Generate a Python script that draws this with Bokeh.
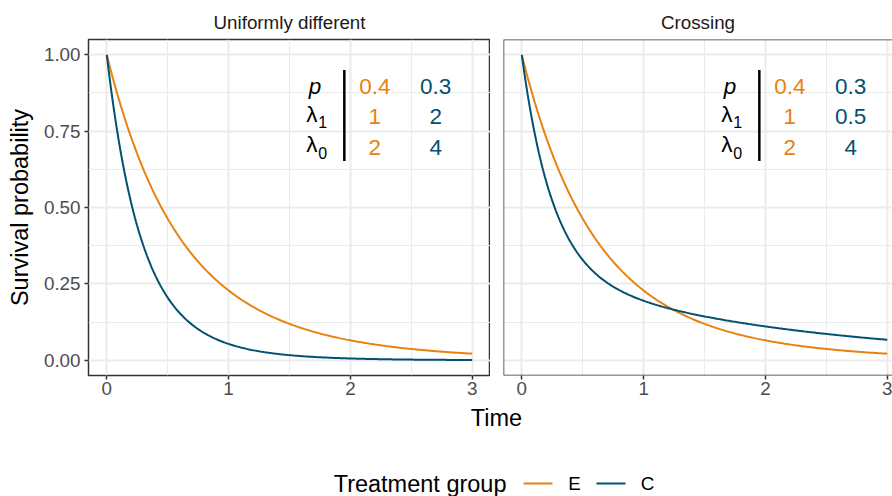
import numpy as np
from bokeh.plotting import figure
from bokeh.layouts import column, row
from bokeh.models import Range1d, FixedTicker, Span, PrintfTickFormatter
from bokeh.core.properties import value
from bokeh.embed import file_html
from bokeh.resources import INLINE

# Scenarios and treatment groups
panels = ["Uniformly different", "Crossing"]
groups = ["E", "C"]

# Mixture-exponential survival parameters per scenario:
# S(t) = p * exp(-lambda1 * t) + (1 - p) * exp(-lambda0 * t)
p_E = [0.4, 0.4]
lam1_E = [1, 1]
lam0_E = [2, 2]
p_C = [0.3, 0.3]
lam1_C = [2, 0.5]
lam0_C = [4, 4]

x_ticks = [0, 1, 2, 3]
x_minor = [0.5, 1.5, 2.5]
y_ticks = [0.0, 0.25, 0.5, 0.75, 1.0]
y_minor = [0.125, 0.375, 0.625, 0.875]

COL_E = "#E8820C"
COL_C = "#03506F"
FONT = "Liberation Sans"
GRID = "#EBEBEB"
DARK = "#333333"
SMALL = "18.8px"
LARGE = "23.5px"
TOP_H = 403

t = np.linspace(0, 3, 301)


def survival(p, l1, l0):
    return p * np.exp(-l1 * t) + (1 - p) * np.exp(-l0 * t)


def fmt(v):
    return f"{v:g}"


def make_panel(i, width, left, x_end, first):
    f = figure(width=width, height=TOP_H,
               x_range=Range1d(-0.15, x_end), y_range=Range1d(-0.05, 1.05),
               output_backend="svg", toolbar_location=None,
               min_border_left=left, min_border_right=0,
               min_border_top=39, min_border_bottom=TOP_H - 375,
               title=panels[i])
    f.title.align = "center"
    f.title.text_font = FONT
    f.title.text_font_size = SMALL
    f.title.text_font_style = "normal"
    f.title.text_color = "#1A1A1A"
    f.title.standoff = 13
    f.background_fill_color = "white"
    f.border_fill_color = "white"

    f.xaxis.ticker = FixedTicker(ticks=x_ticks, minor_ticks=x_minor)
    f.yaxis.ticker = FixedTicker(ticks=y_ticks, minor_ticks=y_minor)
    f.xgrid.ticker = FixedTicker(ticks=x_ticks, minor_ticks=x_minor)
    f.ygrid.ticker = FixedTicker(ticks=y_ticks, minor_ticks=y_minor)
    f.yaxis.formatter = PrintfTickFormatter(format="%.2f")
    for g in (f.xgrid, f.ygrid):
        g.grid_line_color = GRID
        g.grid_line_width = 2
        g.minor_grid_line_color = GRID
        g.minor_grid_line_width = 1
    for ax in (f.xaxis, f.yaxis):
        ax.axis_line_color = None
        ax.major_tick_line_color = DARK
        ax.major_tick_line_width = 1.5
        ax.major_tick_out = 4
        ax.major_tick_in = 0
        ax.minor_tick_line_color = None
        ax.major_label_text_font = FONT
        ax.major_label_text_font_size = SMALL
        ax.major_label_text_color = "#4D4D4D"
    f.xaxis.major_label_standoff = 2
    f.yaxis.major_label_standoff = 4
    if first:
        f.outline_line_color = DARK
        f.outline_line_width = 1.5
        f.yaxis.axis_label = "Survival probability"
        f.yaxis.axis_label_text_font = FONT
        f.yaxis.axis_label_text_font_size = LARGE
        f.yaxis.axis_label_text_font_style = "normal"
        f.yaxis.axis_label_text_color = "black"
        f.yaxis.axis_label_standoff = 8
    else:
        f.yaxis.visible = False
        f.outline_line_color = None
        for loc, dim in ((-0.15, "height"), (1.05, "width"), (-0.05, "width")):
            f.add_layout(Span(location=loc, dimension=dim,
                              line_color=DARK, line_width=1.5))

    # survival curves
    sE = survival(p_E[i], lam1_E[i], lam0_E[i])
    sC = survival(p_C[i], lam1_C[i], lam0_C[i])
    f.line(t, sE, line_color=COL_E, line_width=2)
    f.line(t, sC, line_color=COL_C, line_width=2)

    # parameter table
    xl, xbar, xe, xc = 1.71, 1.95, 2.20, 2.70
    rows = [0.897, 0.798, 0.697]
    f.text(x=[xl], y=[rows[0]], text=["p"], text_font=value(FONT),
           text_font_size="22.5px", text_font_style="italic",
           text_align="center", text_baseline="middle", text_color="black")
    f.text(x=[xl + 0.02, xl + 0.02], y=[rows[1] + 0.008, rows[2] + 0.008],
           text=["λ", "λ"], text_font=value(FONT), text_font_size="22.5px",
           text_align="right", text_baseline="middle", text_color="black")
    f.text(x=[xl + 0.025, xl + 0.025], y=[rows[1] - 0.018, rows[2] - 0.018],
           text=["1", "0"], text_font=value(FONT), text_font_size="16px",
           text_align="left", text_baseline="middle", text_color="black")
    f.segment(x0=[xbar], y0=[0.652], x1=[xbar], y1=[0.95],
              line_color="black", line_width=2.5)
    f.text(x=[xe] * 3, y=rows,
           text=[fmt(p_E[i]), fmt(lam1_E[i]), fmt(lam0_E[i])],
           text_font=value(FONT), text_font_size="22.5px",
           text_align="center", text_baseline="middle", text_color=COL_E)
    f.text(x=[xc] * 3, y=rows,
           text=[fmt(p_C[i]), fmt(lam1_C[i]), fmt(lam0_C[i])],
           text_font=value(FONT), text_font_size="22.5px",
           text_align="center", text_baseline="middle", text_color=COL_C)
    return f


p1 = make_panel(0, 490, 88, 3.15, True)
p2 = make_panel(1, 402, 13, 3.043, False)

# bottom strip: shared x-axis title and the legend
BOT_H = 496 - TOP_H
leg = figure(width=892, height=BOT_H, x_range=Range1d(0, 892),
             y_range=Range1d(496, TOP_H),
             output_backend="svg", toolbar_location=None,
             x_axis_location=None, y_axis_location=None,
             min_border=0, outline_line_color=None)
leg.grid.visible = False
leg.text(x=[496], y=[417], text=["Time"], text_font=value(FONT),
         text_font_size=LARGE, text_align="center", text_baseline="middle",
         text_color="black")
leg.text(x=[506], y=[483], text=["Treatment group"], text_font=value(FONT),
         text_font_size=LARGE, text_align="right", text_baseline="middle",
         text_color="black")
leg.segment(x0=[523, 596], y0=[483, 483], x1=[552, 625], y1=[483, 483],
            line_color=[COL_E, COL_C], line_width=2)
leg.text(x=[574, 647], y=[483, 483], text=groups, text_font=value(FONT),
         text_font_size=SMALL, text_align="center", text_baseline="middle",
         text_color="black")

layout = column(row(p1, p2), leg)
open("out.html", "w").write(file_html(layout, INLINE))
